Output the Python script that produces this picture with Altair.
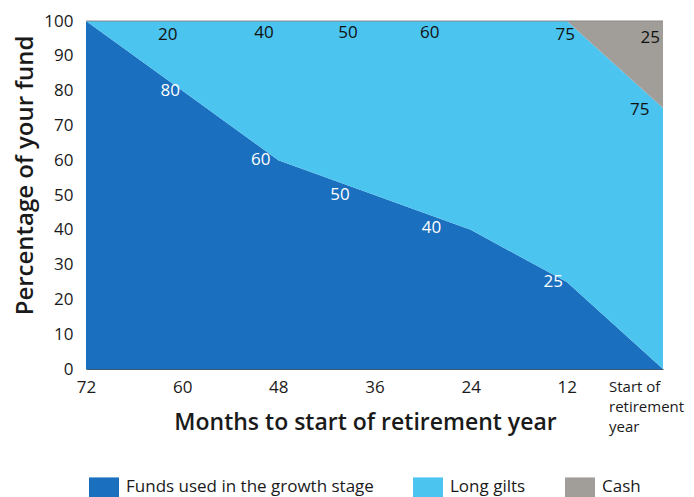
import altair as alt
import pandas as pd

months = [72, 60, 48, 36, 24, 12, 0]
growth = [100, 80, 60, 50, 40, 25, 0]
gilts = [0, 20, 40, 50, 60, 75, 75]
cash = [0, 0, 0, 0, 0, 0, 25]
series = ["Funds used in the growth stage", "Long gilts", "Cash"]
colors = ["#1a6fbf", "#4bc4ef", "#a19d99"]

x_ticks = [72, 60, 48, 36, 24, 12, 0]
y_ticks = [0, 10, 20, 30, 40, 50, 60, 70, 80, 90, 100]

black_text = ["20", "40", "50", "60", "75", "25", "75"]
black_x = [61.8, 49.8, 39.3, 29.1, 12.2, 1.6, 2.9]
black_y = [96, 96.5, 96.5, 96.5, 96, 95, 74.4]

white_text = ["80", "60", "50", "40", "25"]
white_x = [61.5, 50.2, 40.3, 28.9, 13.7]
white_y = [80, 60, 50, 40.5, 25]

end_label = ["Start of", "retirement", "year"]

FONT = "Open Sans"

rows = []
for i, m in enumerate(months):
    for k, (s, vals) in enumerate(zip(series, [growth, gilts, cash])):
        rows.append({"months": m, "series": s, "value": vals[i], "order": k})
df = pd.DataFrame(rows)

xscale = alt.Scale(domain=[72, 0], nice=False, zero=False)
yscale = alt.Scale(domain=[0, 100], nice=False)

xaxis = alt.Axis(values=x_ticks, title="Months to start of retirement year",
                 labelExpr="datum.value == 0 ? '' : datum.label",
                 ticks=False, grid=False, domain=True, domainColor="#3c5a78",
                 domainWidth=1, labelFontSize=17, labelColor="#1a1a1a",
                 labelPadding=10, labelFont=FONT, labelFlush=False,
                 labelOverlap=False,
                 titleFont=FONT, titleFontSize=23, titleFontWeight=600,
                 titleColor="#1a1a1a", titlePadding=16, titleX=279)
yaxis = alt.Axis(values=y_ticks, title="Percentage of your fund",
                 ticks=False, grid=False, domain=False,
                 labelFontSize=17, labelColor="#1a1a1a", labelPadding=13,
                 labelOverlap=False, labelFlush=False,
                 labelFont=FONT, titleFont=FONT, titleFontSize=24,
                 titleFontWeight=600, titleColor="#1a1a1a", titlePadding=6,
                 titleY=154)

area = alt.Chart(df).mark_area(opacity=1).encode(
    x=alt.X("months:Q", scale=xscale, axis=xaxis),
    y=alt.Y("value:Q", stack="zero", scale=yscale, axis=yaxis),
    color=alt.Color("series:N", sort=series,
                    scale=alt.Scale(domain=series, range=colors),
                    legend=alt.Legend(orient="none", legendX=3, legendY=451,
                                      direction="horizontal", title=None,
                                      symbolType="M-1,-0.67H1V0.67H-1Z", symbolSize=900,
                                      symbolStrokeWidth=0, symbolOpacity=1,
                                      labelFont=FONT, labelFontSize=17, labelLimit=0,
                                      labelColor="#1a1a1a", labelOffset=7,
                                      columnPadding=39)),
    order=alt.Order("order:Q"),
)

top_rule = alt.Chart(pd.DataFrame({"y": [100]})).mark_rule(color="#8a8a8a", strokeWidth=1).encode(
    y=alt.Y("y:Q", scale=yscale, axis=yaxis)
)

bdf = pd.DataFrame({"t": black_text, "x": black_x, "y": black_y})
wdf = pd.DataFrame({"t": white_text, "x": white_x, "y": white_y})

black = alt.Chart(bdf).mark_text(font=FONT, fontSize=17, color="#111111", baseline="middle").encode(
    x=alt.X("x:Q", scale=xscale, axis=xaxis), y=alt.Y("y:Q", scale=yscale, axis=yaxis), text="t:N")
white = alt.Chart(wdf).mark_text(font=FONT, fontSize=17, color="white", baseline="middle").encode(
    x=alt.X("x:Q", scale=xscale, axis=xaxis), y=alt.Y("y:Q", scale=yscale, axis=yaxis), text="t:N")

edf = pd.DataFrame({"x": [0], "y": [0], "t": ["\n".join(end_label)]})
endtxt = alt.Chart(edf).mark_text(font=FONT, fontSize=15, color="#1a1a1a", align="left",
                                  baseline="top", lineBreak="\n", lineHeight=20,
                                  dx=-54, dy=11).encode(
    x=alt.X("x:Q", scale=xscale, axis=xaxis), y=alt.Y("y:Q", scale=yscale, axis=yaxis), text="t:N")

chart = alt.layer(area, top_rule, black, white, endtxt).properties(
    width=577, height=348,
    autosize=alt.AutoSizeParams(type="none"),
    padding={"left": 78, "top": 13, "right": 23, "bottom": 140},
).configure_view(stroke=None)

chart.save("out.html", embed_options={"renderer": "svg", "actions": False})
